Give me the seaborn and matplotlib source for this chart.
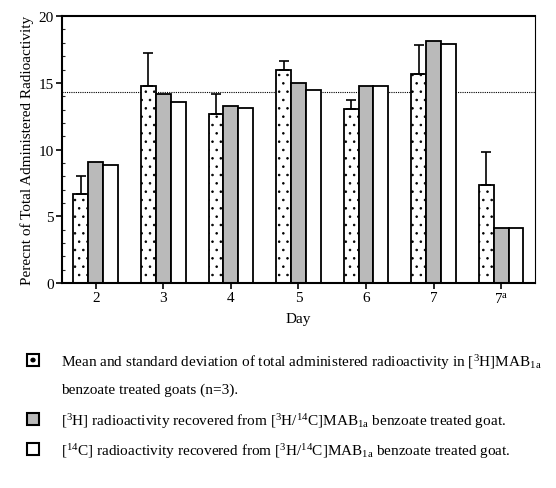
import matplotlib
matplotlib.use("Agg")
import matplotlib.pyplot as plt
import seaborn as sns
import pandas as pd
import numpy as np
from matplotlib.patches import Rectangle

days = ["2", "3", "4", "5", "6", "7", "7a"]
day_labels = ["2", "3", "4", "5", "6", "7", "7$^{\\mathrm{a}}$"]
mean_vals = [6.7, 14.75, 12.7, 16.0, 13.05, 15.7, 7.35]
mean_sd = [1.35, 2.5, 1.5, 0.65, 0.65, 2.1, 2.45]
h3_vals = [9.05, 14.2, 13.3, 15.0, 14.75, 18.1, 4.15]
c14_vals = [8.85, 13.6, 13.15, 14.45, 14.75, 17.9, 4.15]
ref_line = 14.35
series = ["mean", "h3", "c14"]

sns.set_theme(style="white")
plt.rcParams["font.family"] = ["Liberation Serif", "DejaVu Serif"]
plt.rcParams["mathtext.fontset"] = "custom"
plt.rcParams["mathtext.rm"] = "Liberation Serif"
plt.rcParams["mathtext.it"] = "Liberation Serif:italic"
plt.rcParams["hatch.linewidth"] = 0.6

df = pd.DataFrame({
    "day": days * 3,
    "value": mean_vals + h3_vals + c14_vals,
    "series": [s for s in series for _ in days],
})

fig = plt.figure(figsize=(5.56, 4.89), dpi=100)
ax = fig.add_axes([0.1115, 0.419, 0.8505, 0.546])

sns.barplot(data=df, x="day", y="value", hue="series", order=days, hue_order=series,
            palette=["white", "#bababa", "white"], width=0.66, gap=0,
            edgecolor="black", linewidth=1.3, errorbar=None, legend=False, ax=ax,
            saturation=1)

for p in ax.containers[0]:
    p.set_hatch("..")

xs = [p.get_x() + p.get_width() / 2 for p in ax.containers[0]]
ax.errorbar(xs, mean_vals, yerr=[np.zeros(len(mean_sd)), mean_sd], fmt="none",
            ecolor="black", elinewidth=1.2, capsize=3.5, capthick=1.2, zorder=1)

ax.axhline(ref_line, color="black", linestyle=(0, (1, 1)), linewidth=0.8, zorder=0)

ax.set_xlim(-0.5, 6.5)
ax.set_ylim(0, 20)
ax.set_yticks([0, 5, 10, 15, 20])
ax.set_yticks(np.arange(0, 21, 1), minor=True)
ax.set_xticks(range(len(days)))
ax.set_xticklabels(day_labels)
ax.tick_params(axis="both", which="major", direction="out", length=4, width=1.2,
               labelsize=11, colors="black", pad=2, left=True, bottom=True)
ax.tick_params(axis="y", which="minor", direction="in", length=2, width=0.8, left=True)
for s in ["left", "bottom", "top"]:
    ax.spines[s].set_linewidth(1.5)
    ax.spines[s].set_color("black")
ax.spines["right"].set_linewidth(0.8)
ax.spines["right"].set_color("black")

ax.set_xlabel("Day", fontsize=11, color="black", labelpad=5)
ax.set_ylabel("Perecnt of Total Administered Radioactivity", fontsize=11, color="black", labelpad=3)

# legend
leg_items = [
    (363 / 489, dict(facecolor="white", dot=True),
     "Mean and standard deviation of total administered radioactivity in [$^{3}$H]MAB$_{\\mathrm{1a}}$"),
    (422 / 489, dict(facecolor="#bababa", dot=False),
     "[$^{3}$H] radioactivity recovered from [$^{3}$H/$^{14}$C]MAB$_{\\mathrm{1a}}$ benzoate treated goat."),
    (452 / 489, dict(facecolor="white", dot=False),
     "[$^{14}$C] radioactivity recovered from [$^{3}$H/$^{14}$C]MAB$_{\\mathrm{1a}}$ benzoate treated goat."),
]
bw, bh = 12 / 556, 12 / 489
for yy, st, txt in leg_items:
    yf = 1 - yy
    fig.add_artist(Rectangle((27 / 556, yf - bh / 2 + 0.004), bw, bh, transform=fig.transFigure,
                             facecolor=st["facecolor"], edgecolor="black", linewidth=1.5))
    if st["dot"]:
        fig.add_artist(plt.Circle((27 / 556 + bw / 2, yf + 0.004), 0.0035, transform=fig.transFigure,
                                  color="black"))
    fig.text(61 / 556, yf, txt, fontsize=11, va="center", ha="left", color="black")
fig.text(61 / 556, 1 - 390 / 489, "benzoate treated goats (n=3).", fontsize=11, va="center",
         ha="left", color="black")

fig.savefig("out.png", dpi=100)
